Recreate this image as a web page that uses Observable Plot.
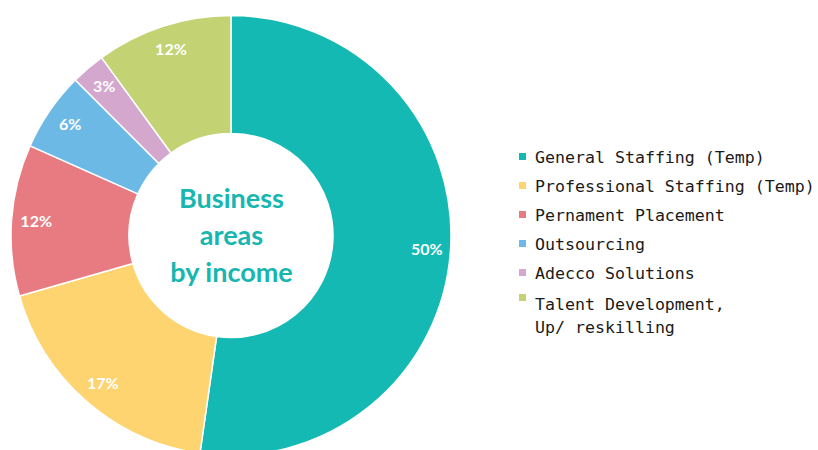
<!DOCTYPE html>
<html><head><meta charset="utf-8">
<script src="https://cdn.jsdelivr.net/npm/d3@7"></script>
<script src="https://cdn.jsdelivr.net/npm/@observablehq/plot@0.6"></script>
<style>
body{margin:0;background:#fff}
#wrap{position:relative;width:818px;height:450px;overflow:hidden;background:#fff}
#legend{position:absolute;left:519px;top:142.5px;font-family:"DejaVu Sans Mono",monospace;font-size:16.6px;color:#1a1a1a}
.row{position:relative;height:29px;line-height:29px;padding-left:16px;white-space:pre}
.row.multi{height:auto;line-height:23px;padding-top:5px}
.sw{position:absolute;left:0;top:10.5px;width:7px;height:7px}
.row.multi .sw{top:6px}
</style></head><body><div id="wrap"></div>
<script>
// ---- data ----
const categories = [
  "General Staffing (Temp)",
  "Professional Staffing (Temp)",
  "Pernament Placement",
  "Outsourcing",
  "Adecco Solutions",
  "Talent Development,\nUp/ reskilling"
];
// slice shares as drawn in the picture
const shares = [52.2, 18.3, 11.1, 5.8, 2.5, 10.0];
// printed labels
const labels = ["50%", "17%", "12%", "6%", "3%", "12%"];
const colors = ["#14B9B3", "#FDD46F", "#E87B82", "#6DB9E6", "#D4A7CE", "#C3D373"];
const centerTitle = "Business\nareas\nby income";

// ---- build ----
const data = categories.map((c, i) => ({category: c, share: shares[i], label: labels[i], color: colors[i]}));
const arcs = d3.pie().sort(null).value(d => d.share)(data);
const innerRatio = 102 / 220;
const labelRatio = 0.89;
const labelData = arcs.map(a => {
  const m = (a.startAngle + a.endAngle) / 2;
  return {x: labelRatio * Math.sin(m), y: labelRatio * Math.cos(m), text: a.data.label};
});

function donut(index, scales) {
  const {x, y} = scales;
  const cx = x(0), cy = y(0);
  const R = x(1) - x(0), r = x(innerRatio) - x(0);
  const arc = d3.arc().innerRadius(r).outerRadius(R);
  const g = d3.create("svg:g").attr("transform", `translate(${cx},${cy})`);
  g.selectAll("path").data(arcs).join("path")
    .attr("d", arc)
    .attr("fill", d => d.data.color)
    .attr("stroke", "white")
    .attr("stroke-width", 1.5)
    .attr("stroke-linejoin", "round");
  return g.node();
}

const chart = Plot.plot({
  width: 818,
  height: 450,
  style: {fontFamily: "Lato, sans-serif", background: "white", overflow: "hidden"},
  x: {domain: [-1, 1], range: [11, 451], axis: null},
  y: {domain: [-1, 1], range: [455.5, 15.5], axis: null},
  marks: [
    donut,
    Plot.text(labelData, {x: "x", y: "y", text: "text", fill: "white", fontSize: 16, fontWeight: "bold"}),
    Plot.text([{x: 0, y: 0, t: centerTitle}], {x: "x", y: "y", dy: -3, text: "t", fill: "#17B6B0", fontSize: 27, fontWeight: "bold", lineHeight: 1.37})
  ]
});
const wrap = document.getElementById("wrap");
wrap.appendChild(chart);

// ---- legend ----
const legend = document.createElement("div");
legend.id = "legend";
data.forEach(d => {
  const row = document.createElement("div");
  row.className = "row" + (d.category.includes("\n") ? " multi" : "");
  const sw = document.createElement("span");
  sw.className = "sw";
  sw.style.background = d.color;
  row.appendChild(sw);
  row.appendChild(document.createTextNode(d.category));
  legend.appendChild(row);
});
wrap.appendChild(legend);
</script>
</body></html>
